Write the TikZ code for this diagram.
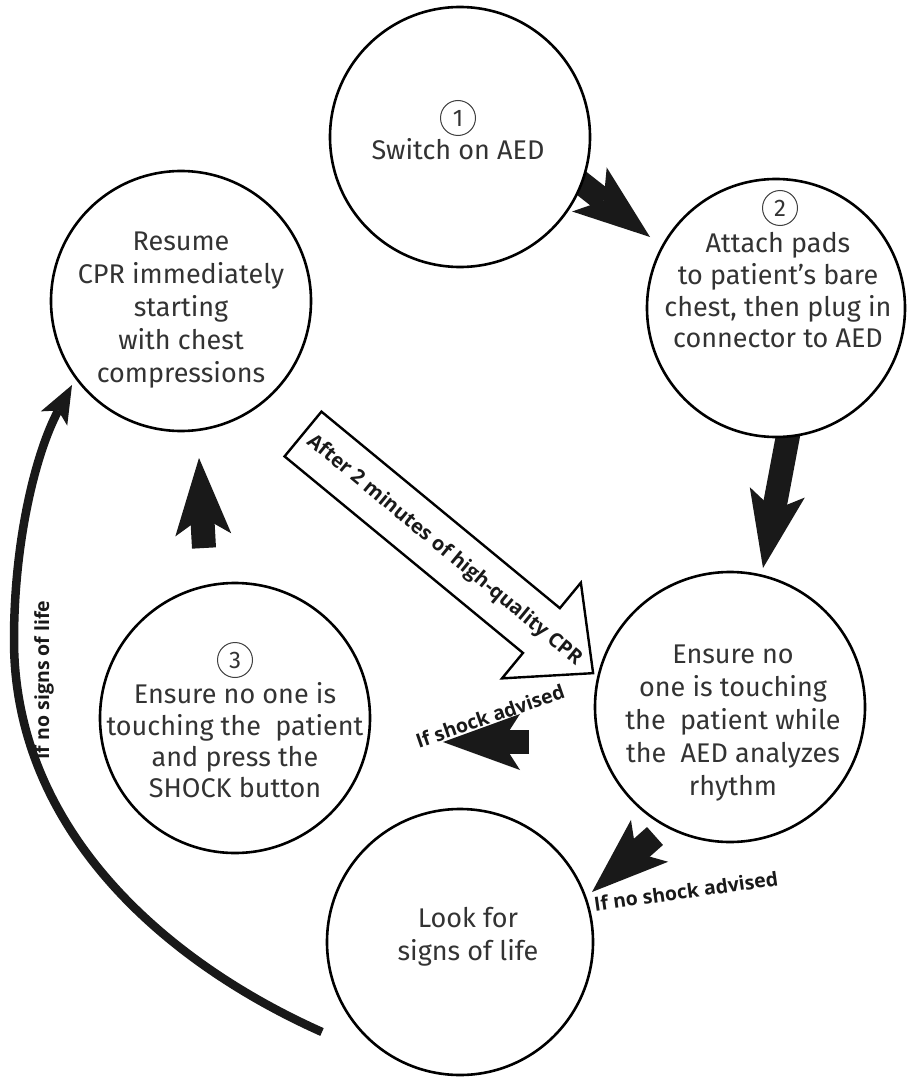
\documentclass[tikz,border=0pt]{standalone}
\usepackage{fontspec}
\setmainfont{Fira Sans}
\newfontfamily\lblfont{Open Sans}
\usetikzlibrary{arrows.meta}
\tikzset{
  stepcircle/.style={circle, draw=black, line width=2.6pt, fill=white, inner sep=0pt},
  numcircle/.style={circle, draw=black!75, line width=1pt, inner sep=0pt, minimum size=35pt,
    font=\fontsize{24}{24}\selectfont, text=black!80},
  bodytext/.style={anchor=base, font=\fontsize{27}{30}\selectfont, text=black!80, inner sep=0pt},
  lbl/.style={font=\lblfont\bfseries\fontsize{19.5}{22}\selectfont, text=black!90, inner sep=0pt},
  blockarrow/.style={line width=24pt, draw=black!90,
    -{Stealth[length=77pt, width=56pt, inset=18pt, line width=0pt]}},
  curvearrow/.style={line width=8.5pt, draw=black!90,
    -{Stealth[length=38pt, width=30pt, inset=9pt, line width=0pt]}},
  hollowarrow/.style={line width=2.4pt, draw=black, fill=white, line join=miter}
}
\begin{document}
\begin{tikzpicture}[x=1pt,y=-1pt]
\useasboundingbox (0,0) rectangle (910,1078);
\fill[white] (0,0) rectangle (910,1078);

% block arrow end points
\coordinate (a1s) at (571,175); \coordinate (a1e) at (650,237);
\coordinate (a2s) at (790,425); \coordinate (a2e) at (763,568);
\coordinate (a3s) at (204,548); \coordinate (a3e) at (199,458);
\coordinate (a4s) at (529,742); \coordinate (a4e) at (443,742);
\coordinate (a5s) at (655,836); \coordinate (a5e) at (592,892);
\draw[blockarrow] (a1s) -- (a1e);
\draw[blockarrow] (a2s) -- (a2e);
\draw[blockarrow] (a3s) -- (a3e);
\draw[blockarrow] (a4s) -- (a4e);
\draw[blockarrow] (a5s) -- (a5e);

% curved arrow
\coordinate (cs) at (322,1032);
\coordinate (cm) at (14,640);
\coordinate (ce) at (72,385);
\draw[curvearrow] (cs) .. controls (165,962) and (14,830) .. (cm)
                       .. controls (14,540) and (36,452) .. (ce);

% circles
\node[stepcircle, minimum size=260pt] (c1) at (460,137) {};
\node[stepcircle, minimum size=258pt] (c2) at (776,308) {};
\node[stepcircle, minimum size=260pt] (c3) at (181,301) {};
\node[stepcircle, minimum size=270pt] (c4) at (730,707) {};
\node[stepcircle, minimum size=270pt] (c5) at (235,718) {};
\node[stepcircle, minimum size=266pt] (c6) at (460,942) {};

% step numbers
\node[numcircle] (n1) at (458,118) {1};
\node[numcircle] (n2) at (780,208) {2};
\node[numcircle] (n3) at (235,660) {3};

% texts
\node[bodytext] (t1a) at (458,160) {Switch on AED};

\node[bodytext] (t2a) at (778,252) {Attach pads};
\node[bodytext] (t2b) at (778,284) {to patient’s bare};
\node[bodytext] (t2c) at (778,316) {chest, then plug in};
\node[bodytext] (t2d) at (778,347) {connector to AED};

\node[bodytext] (t3a) at (181,250) {Resume};
\node[bodytext] (t3b) at (181,283) {CPR immediately};
\node[bodytext] (t3c) at (181,316) {starting};
\node[bodytext] (t3d) at (181,349) {with chest};
\node[bodytext] (t3e) at (181,382) {compressions};

\node[bodytext] (t4a) at (733,663) {Ensure no};
\node[bodytext] (t4b) at (733,696) {one is touching};
\node[bodytext] (t4c) at (733,729) {the~ patient while};
\node[bodytext] (t4d) at (733,762) {the~ AED analyzes};
\node[bodytext] (t4e) at (733,795) {rhythm};

\node[bodytext] (t5a) at (235,703) {Ensure no one is};
\node[bodytext] (t5b) at (235,735) {touching the~ patient};
\node[bodytext] (t5c) at (235,766) {and press the};
\node[bodytext] (t5d) at (235,797) {SHOCK button};

\node[bodytext] (t6a) at (468,927) {Look for};
\node[bodytext] (t6b) at (468,960) {signs of life};

% hollow arrow
\coordinate (h0) at (303,434);
\begin{scope}[shift={(h0)}, rotate=-39.5]
  \draw[hollowarrow] (0,29) -- (309,29) -- (309,62) -- (376,0) -- (309,-62) -- (309,-29) -- (0,-29) -- cycle;
  \node[lbl, font=\lblfont\bfseries\fontsize{20}{22}\selectfont, rotate=-39.5] (htext) at (183,0) {After 2 minutes of high-quality CPR};
\end{scope}

% labels
\node[lbl, rotate=19] (lshock) at (490,716) {If shock advised};
\node[lbl, rotate=8] (lnoshock) at (686,891) {If no shock advised};
\node[lbl, rotate=90] (llife) at (44,680) {If no signs of life};
\end{tikzpicture}
\end{document}
